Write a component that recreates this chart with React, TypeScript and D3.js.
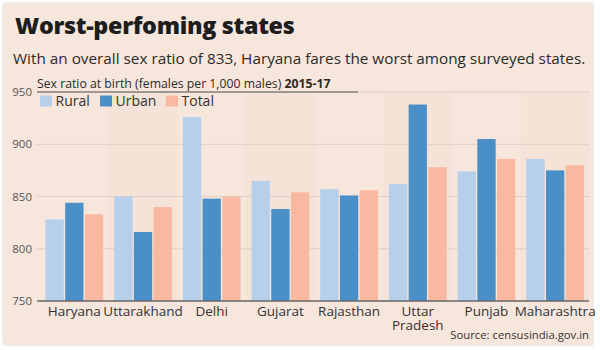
import React from "react";
import * as d3 from "d3";

const states = ["Haryana", "Uttarakhand", "Delhi", "Gujarat", "Rajasthan", "Uttar Pradesh", "Punjab", "Maharashtra"];
const seriesNames = ["Rural", "Urban", "Total"];
const rural = [828, 850, 926, 865, 857, 862, 874, 886];
const urban = [844, 816, 848, 838, 851, 938, 905, 875];
const total = [833, 840, 850, 854, 856, 878, 886, 880];
const yTicks = [750, 800, 850, 900, 950];
const colors = ["#b6cfea", "#4b8fc8", "#f9b9a1"];

const W = 600;
const H = 350;
const FONT = "'Open Sans', 'Noto Sans', sans-serif";

export default function App() {
  const seriesValues = [rural, urban, total];
  const x = d3.scaleBand<string>().domain(states).range([40, 589.5]).paddingInner(0.16).paddingOuter(0.08);
  const xs = d3.scaleBand<string>().domain(seriesNames).range([0, x.bandwidth()]).paddingInner(0.07);
  const y = d3.scaleLinear().domain([750, 950]).range([301, 92]);
  const step = x.step();
  const legendX = [40, 100, 166];

  return (
    <svg width={W} height={H} style={{ position: "absolute", left: 0, top: 0 }} fontFamily={FONT}>
      <defs>
        <filter id="sh" x="-5%" y="-5%" width="110%" height="110%">
          <feDropShadow dx="0" dy="0" stdDeviation="1.5" floodColor="#000" floodOpacity="0.15" />
        </filter>
      </defs>
      <rect x={0} y={0} width={W} height={H} fill="#ffffff" />
      <rect x={3} y={3} width={590} height={342} fill="#f7e6dc" filter="url(#sh)" />
      {states.map((s, i) =>
        i % 2 === 1 ? (
          <rect key={"band" + s} x={(x(s) as number) - step * 0.08} y={y(950)} width={step} height={y(750) - y(950)} fill="#f4dccf" opacity={0.35} />
        ) : null
      )}
      <text x={15} y={34} fontSize={23.3} fontWeight={800} fill="#1d1d1d" letterSpacing={-0.3}>Worst-perfoming states</text>
      <text x={13} y={64} fontSize={15.3} fill="#2b2b2b">With an overall sex ratio of 833, Haryana fares the worst among surveyed states.</text>
      {yTicks.map((t) => (
        <g key={t}>
          {t !== 750 && <line x1={37} x2={589} y1={y(t)} y2={y(t)} stroke="#dcd0c8" strokeWidth={1} />}
          <text x={32} y={y(t)} dy="0.35em" textAnchor="end" fontSize={11.5} fill="#555">{t}</text>
        </g>
      ))}
      <text x={37} y={88} fontSize={12.25} fill="#2b2b2b">
        Sex ratio at birth (females per 1,000 males) <tspan fontWeight={700}>2015-17</tspan>
      </text>
      <line x1={37} x2={358} y1={y(950)} y2={y(950)} stroke="#555" strokeWidth={1.2} />
      {seriesNames.map((n, i) => {
        const lx = legendX[i];
        return (
          <g key={n}>
            <rect x={lx} y={95.5} width={12} height={11} fill={colors[i]} />
            <text x={lx + 15.5} y={106} fontSize={14} fill="#333">{n}</text>
          </g>
        );
      })}
      {states.map((s, i) => (
        <g key={s} transform={`translate(${x(s)},0)`}>
          {seriesNames.map((n, j) => {
            const v = seriesValues[j][i];
            return <rect key={n} x={xs(n)} y={y(v)} width={xs.bandwidth()} height={y(750) - y(v)} fill={colors[j]} />;
          })}
        </g>
      ))}
      <line x1={37} x2={589} y1={y(750)} y2={y(750)} stroke="#666" strokeWidth={1.6} />
      {states.map((s) => {
        const cx = (x(s) as number) + x.bandwidth() / 2;
        const parts = s === "Uttar Pradesh" ? ["Uttar", "Pradesh"] : [s];
        return parts.map((p, k) => (
          <text key={"l" + p} x={cx} y={316 + k * 13.5} textAnchor="middle" fontSize={13.5} fill="#333">{p}</text>
        ));
      })}
      <text x={589} y={339} textAnchor="end" fontSize={11.3} fill="#333">Source: censusindia.gov.in</text>
    </svg>
  );
}
